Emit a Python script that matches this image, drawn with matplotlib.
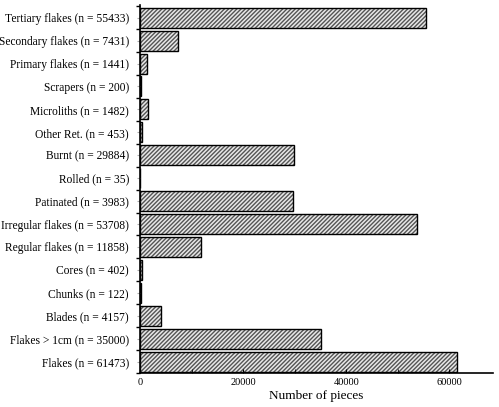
import matplotlib.pyplot as plt
import numpy as np

plt.rcParams['font.family'] = ['Liberation Serif', 'DejaVu Serif']

# bottom to top
labels = ["Flakes (n = 61473)", "Flakes > 1cm (n = 35000)", "Blades (n = 4157)",
          "Chunks (n = 122)", "Cores (n = 402)", "Regular flakes (n = 11858)",
          "Irregular flakes (n = 53708)", "Patinated (n = 3983)", "Rolled (n = 35)",
          "Burnt (n = 29884)", "Other Ret. (n = 453)", "Microliths (n = 1482)",
          "Scrapers (n = 200)", "Primary flakes (n = 1441)", "Secondary flakes (n = 7431)",
          "Tertiary flakes (n = 55433)"]
# bar lengths as drawn (Patinated bar is drawn near the Burnt length)
values = [61473, 35000, 4157, 122, 402, 11858, 53708, 29700, 35, 29884,
          453, 1482, 200, 1441, 7431, 55433]

fig = plt.figure(figsize=(4.99, 4.07), dpi=100)
ax = fig.add_axes([0.2806, 0.0835, 0.708, 0.904])
y = np.arange(len(labels))
ax.barh(y, values, height=0.87, color='#e8e8e8', hatch='////////', edgecolor='#555555', linewidth=0)
ax.barh(y, values, height=0.87, color='none', edgecolor='black', linewidth=1.0)

ax.set_xlim(0, 68500)
ax.set_ylim(-0.5, 15.55)
ax.set_yticks(y)
ax.set_yticklabels(labels, fontsize=8.3)
ax.tick_params(axis='y', length=2, color='#aaaaaa', pad=6)
ax.set_yticks(np.arange(-0.5, 15.6, 1), minor=True)
ax.tick_params(axis='y', which='minor', length=3, width=1, direction='out')
ax.set_xticks([0, 20000, 40000, 60000])
ax.set_xticks(np.arange(0, 70000, 10000), minor=True)
ax.tick_params(axis='x', which='both', direction='in', length=3, labelsize=7.5)
ax.set_xlabel("Number of pieces", fontsize=9.5, labelpad=2)
for s in ['top', 'right']:
    ax.spines[s].set_visible(False)
ax.spines['left'].set_linewidth(1.2)
ax.spines['bottom'].set_linewidth(1.2)

fig.savefig("out.png", dpi=100)
